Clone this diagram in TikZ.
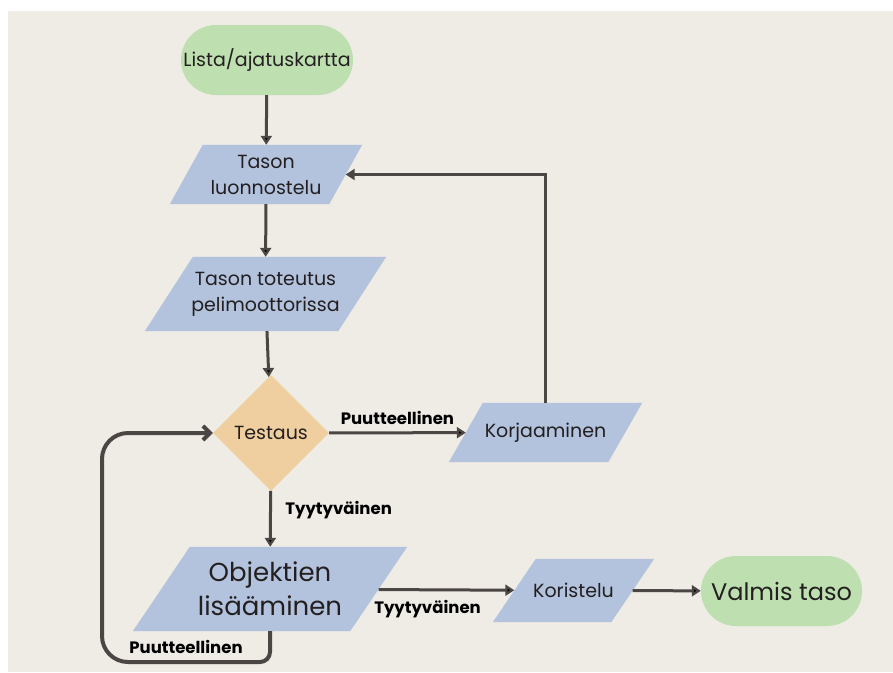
\documentclass[tikz,border=0pt]{standalone}
\usepackage{fontspec}
\setmainfont{Poppins}
\usetikzlibrary{arrows.meta,shapes.geometric,positioning,backgrounds}

\definecolor{bgbeige}{HTML}{EFEBE5}
\definecolor{termgreen}{HTML}{BEDFB0}
\definecolor{stepblue}{HTML}{B3C3DD}
\definecolor{testorange}{HTML}{EFCFA0}
\definecolor{linegray}{HTML}{4B4643}
\definecolor{textdark}{HTML}{231F20}

\begin{document}
\begin{tikzpicture}[%
    x=1pt, y=-1pt,
    >={Triangle[length=9pt,width=11pt]},
    flow/.style={draw=linegray, line width=3pt},
    term/.style={rectangle, rounded corners=35pt, fill=termgreen, text=textdark,
                 minimum height=70pt, inner sep=0pt},
    para/.style={rectangle, text=textdark, align=center, inner sep=0pt},
    decision/.style={diamond, fill=testorange, text=textdark, minimum width=116pt,
                 minimum height=116pt, inner sep=0pt},
    lbl/.style={font=\fontsize{16.5}{19}\selectfont\bfseries, text=black},
  ]
    \useasboundingbox (0,0) rectangle (893,672);
    \begin{scope}[on background layer]
      \fill[bgbeige] (8,11) rectangle (893,672);
    \end{scope}

    \node (lista)   [term, minimum width=172pt, font=\fontsize{19}{24}\selectfont]
                    at (267,60)      {Lista/ajatuskartta};
    \node (luon)    [para, minimum width=159pt, minimum height=59pt,
                     font=\fontsize{19}{26}\selectfont]
                    at (266,174.5)   {Tason\\luonnostelu};
    \node (tot)     [para, minimum width=193pt, minimum height=74pt,
                     font=\fontsize{19}{26}\selectfont]
                    at (265.5,294)   {Tason toteutus\\pelimoottorissa};
    \node (testaus) [decision, font=\fontsize{19}{24}\selectfont]
                    at (271,433)     {Testaus};
    \node (korj)    [para, minimum width=159pt, minimum height=59pt,
                     font=\fontsize{19}{24}\selectfont]
                    at (545.5,432.5) {Korjaaminen};
    \node (obj)     [para, minimum width=217pt, minimum height=84pt,
                     font=\fontsize{26}{34}\selectfont]
                    at (270,589)     {Objektien\\lisääminen};
    \node (kor)     [para, minimum width=118pt, minimum height=63pt,
                     font=\fontsize{19}{24}\selectfont]
                    at (573.5,590.5) {Koristelu};
    \node (valmis)  [term, minimum width=161pt, font=\fontsize{24}{28}\selectfont]
                    at (781.5,591)   {Valmis taso};

    % vinot laatikot tekstien taakse
    \begin{scope}[on background layer]
      \foreach \n/\s in {luon/33, tot/48, korj/34, obj/57, kor/43}
        \fill[stepblue] ([xshift=-\s/2]\n.south west) -- ([xshift=-\s/2]\n.south east)
                     -- ([xshift=\s/2]\n.north east) -- ([xshift=\s/2]\n.north west) -- cycle;
    \end{scope}

    \path[->, flow] (lista)   edge (luon)
                    (luon)    edge (tot)
                    (tot)     edge (testaus)
                    (testaus) edge node [lbl, above=3pt] {Puutteellinen} (korj)
                    (testaus) edge node [lbl, right=10pt, pos=0.35] {Tyytyväinen} (obj)
                    (obj)     edge node [lbl, below=6pt, pos=0.36] {Tyytyväinen} (kor)
                    (kor)     edge (valmis)
                    ;

    \draw[->, flow] (korj.north) |- (luon.east);

    % paluu testaukseen
    \coordinate (lpcorner) at (102,662);
    \draw[flow, line width=4pt, -{Straight Barb[length=7pt,width=14pt]}, rounded corners=10pt]
        (obj.south) -- (obj.south |- lpcorner) [rounded corners=26pt]
        -- node [lbl, above=3pt] {Puutteellinen} (lpcorner)
        -- (lpcorner |- testaus.west) -- (testaus.west);
\end{tikzpicture}
\end{document}
